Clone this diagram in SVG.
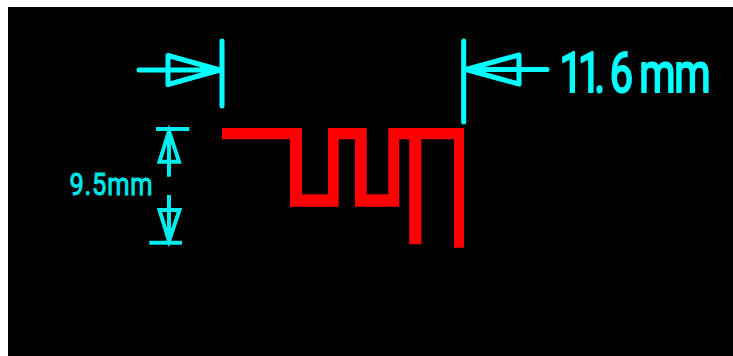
<svg xmlns="http://www.w3.org/2000/svg" width="733" height="356" viewBox="0 0 733 356">
<style>
.dim{fill:none;stroke:#00ffff;stroke-width:5;stroke-linecap:round;stroke-linejoin:round}
.thin{fill:none;stroke:#00eded;stroke-width:4;stroke-linejoin:miter}
.big{font-family:Roboto,"Liberation Sans",sans-serif;font-size:56px;fill:#00ffff;stroke:#00ffff;stroke-width:2.2;stroke-linejoin:round}
.small{font-family:Roboto,"Liberation Sans",sans-serif;font-size:31px;letter-spacing:1px;fill:#00e6e6;stroke:#00e6e6;stroke-width:1}
</style>
<rect width="733" height="356" fill="#fff"/>
<rect x="8" y="7" width="725" height="349" fill="#000"/>
<g id="trace"><path fill="#f00" d="M222 128H302V194.300H328V128H366.700V194.300H388.300V128H464V247.700H454V139.300H421.300V244.300H409.300V139.300H399.300V206.700H355V139.300H338.700V206.700H290V139.300H222Z"/></g>
<g id="connectors">
<path class="dim" d="M222 41V106M139 70H222M168 55.500L220 70L168 84.500Z"/>
<path class="dim" d="M463.700 41V122M547 69.500H465M519 55L466 69.500L519 84Z"/>
<path class="thin" d="M156 129H189.300M169 130V176.700M169 131L179 161.700H159.500Z"/>
<path class="thin" d="M149.300 242.700H182M169 195V242M159.500 210H179.500L169 241Z"/>
</g>
<g id="label-width"><text class="big" transform="translate(0 91.500) scale(.74 1)" x="756 781 803 824 864 911" y="0">11.6mm</text></g>
<g id="label-height"><text class="small" transform="translate(69.500 194.500) scale(.82 1)" x="0" y="0">9.5mm</text></g>
</svg>
